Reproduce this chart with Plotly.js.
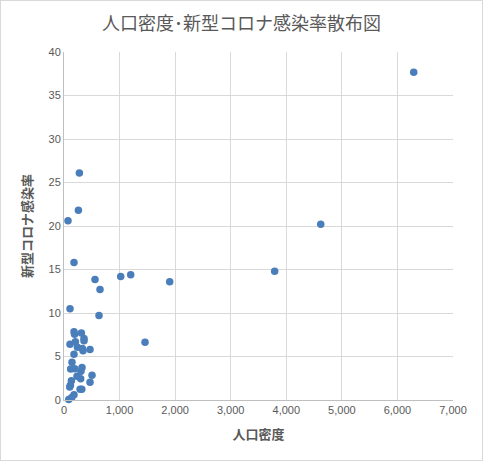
<!DOCTYPE html>
<html>
<head>
<meta charset="utf-8">
<script src="https://cdn.plot.ly/plotly-3.0.1.min.js"></script>
<style>
html,body{margin:0;padding:0;background:#fff;}
#chart{width:481px;height:459px;border:1px solid #d9d9d9;}
</style>
</head>
<body>
<div id="chart"></div>
<script>
const chartTitle = "人口密度･新型コロナ感染率散布図";
const xTitle = "人口密度";
const yTitle = "新型コロナ感染率";

const density = [6293, 4620, 3791, 1902, 1458, 1200, 1020, 648, 630, 558,
  277, 259, 72, 180, 108,
  180, 190, 313, 360, 360, 108, 205, 241, 331, 342, 468, 180,
  144, 120, 193, 324, 305, 234, 300, 504, 468, 133, 115, 103,
  290, 320, 180, 140, 85];
const infectionRate = [37.66, 20.2, 14.8, 13.6, 6.65, 14.4, 14.2, 12.7, 9.72, 13.86,
  26.1, 21.8, 20.6, 15.8, 10.5,
  7.84, 7.55, 7.69, 7.08, 6.82, 6.42, 6.7, 6.05, 5.93, 5.66, 5.8, 5.26,
  4.33, 3.56, 3.6, 3.75, 3.3, 2.72, 2.45, 2.85, 2.05, 2.2, 1.7, 1.5,
  1.23, 1.23, 0.6, 0.3, 0.05];

const gray = "#595959";
const jp = "'Noto Sans CJK JP', 'Noto Sans', sans-serif";
const num = "'Liberation Sans', 'DejaVu Sans', sans-serif";

const trace = {
  type: "scatter",
  mode: "markers",
  x: density,
  y: infectionRate,
  cliponaxis: false,
  marker: {color: "#4a7ebb", size: 7.5, line: {width: 0}},
  hoverinfo: "x+y"
};

const layout = {
  width: 481, height: 459,
  margin: {l: 63, r: 29, t: 51, b: 60},
  paper_bgcolor: "#fff", plot_bgcolor: "#fff",
  showlegend: false,
  title: {text: chartTitle, font: {family: jp, size: 18, color: gray}, x: 0.5, xanchor: "center", y: 0.95, yanchor: "middle"},
  xaxis: {
    range: [0, 7000], dtick: 1000, tick0: 0, tickformat: ",d",
    showgrid: true, gridcolor: "#d9d9d9", gridwidth: 1,
    zeroline: false, showline: true, linecolor: "#bfbfbf", linewidth: 1,
    ticks: "", ticklen: 0,
    tickfont: {family: num, size: 11, color: gray},
    title: {text: xTitle, font: {family: jp, size: 13, color: gray, weight: "bold"}, standoff: 14},
    fixedrange: true
  },
  yaxis: {
    range: [0, 40], dtick: 5, tick0: 0,
    showgrid: true, gridcolor: "#d9d9d9", gridwidth: 1,
    zeroline: false, showline: true, linecolor: "#bfbfbf", linewidth: 1,
    ticks: "", ticklen: 0,
    tickfont: {family: num, size: 11, color: gray},
    title: {text: yTitle, font: {family: jp, size: 13, color: gray, weight: "bold"}, standoff: 12},
    fixedrange: true
  }
};

Plotly.newPlot("chart", [trace], layout, {displayModeBar: false, staticPlot: true});
</script>
</body>
</html>
